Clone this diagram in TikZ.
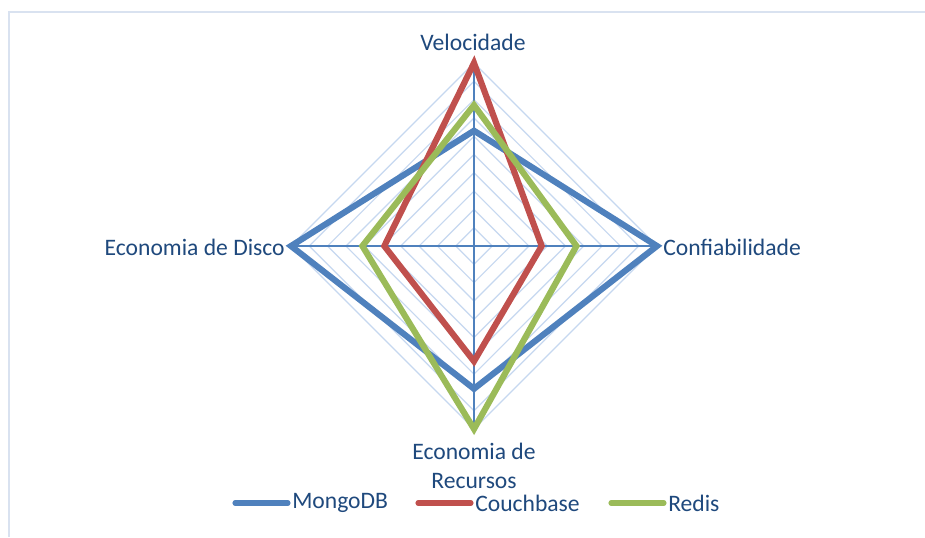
\documentclass[tikz,border=0pt]{standalone}
\usepackage{fontspec}
\setmainfont{Carlito}
\usetikzlibrary{positioning}

\definecolor{gridblue}{RGB}{198,216,240}
\definecolor{axisblue}{HTML}{4F81BD}
\definecolor{mongo}{HTML}{4F81BD}
\definecolor{couch}{HTML}{C0504D}
\definecolor{redis}{HTML}{9BBB59}
\definecolor{labeltxt}{HTML}{1F497D}
\definecolor{framecol}{RGB}{217,226,240}

% one series: velocidade, confiabilidade, recursos, disco (fraction of radius)
\newcommand{\serie}[5]{%
  \draw[serie, #1] (0,-#2*183) -- (#3*183,0) -- (0,#4*183) -- (-#5*183,0) -- cycle;}

\begin{document}
\begin{tikzpicture}[x=0.75pt, y=-0.75pt,
    grid/.style={draw=gridblue, line width=0.9pt},
    axis/.style={draw=axisblue, line width=1.1pt},
    serie/.style={line width=4.6pt, line join=miter},
    lbl/.style={text=labeltxt, font=\fontsize{17.7}{21.5}\selectfont, inner sep=0pt},
    key/.style={line width=3.8pt, line cap=round}]
    \useasboundingbox (0,0) rectangle (925,537);
    \fill[white] (0,0) rectangle (925,537);
    \draw[framecol, line width=1.5pt] (9,537) -- (9,12) -- (925,12);

    \begin{scope}[shift={(474,246)}]
    \coordinate (O) at (0,0);
    \foreach \k in {1,...,10}
        \draw[grid] (0,-\k*18.3) -- (\k*18.3,0) -- (0,\k*18.3) -- (-\k*18.3,0) -- cycle;
    \coordinate (top) at (0,-183);
    \coordinate (right) at (183,0);
    \coordinate (bottom) at (0,183);
    \coordinate (left) at (-183,0);
    \foreach \c in {top, right, bottom, left}
        \draw[axis] (O) -- (\c);

    \serie{mongo}{0.63}{1}{0.78}{1}
    \serie{couch}{1}{0.37}{0.63}{0.49}
    \serie{redis}{0.77}{0.56}{1}{0.61}
    \end{scope}

    \node[lbl] (vel) at (473,42) {Velocidade};
    \node[lbl, anchor=west] (conf) at (663,247) {Confiabilidade};
    \node[lbl, anchor=east] (disco) at (285,247) {Economia de Disco};
    \node[lbl, align=center] (rec) at (474,466) {Economia de\\Recursos};

    % legend
    \coordinate (k1) at (235,503);
    \coordinate (k2) at (418,503);
    \coordinate (k3) at (611,503);
    \draw[key, mongo] (k1) -- ++(53,0) coordinate (k1e);
    \node[lbl, anchor=west] (lmongo) at ([xshift=3pt]k1e) {MongoDB};
    \draw[key, couch] (k2) -- ++(53,0) coordinate (k2e);
    \node[lbl, anchor=west] (lcouch) at ([xshift=3pt]k2e) {Couchbase};
    \draw[key, redis] (k3) -- ++(53,0) coordinate (k3e);
    \node[lbl, anchor=west] (lredis) at ([xshift=3pt]k3e) {Redis};
\end{tikzpicture}
\end{document}
